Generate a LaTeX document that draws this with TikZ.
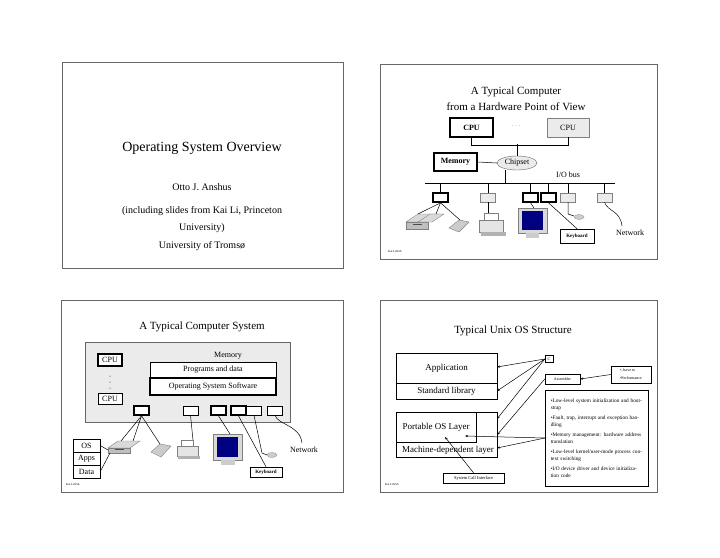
\documentclass[tikz,border=0pt]{standalone}
\usepackage{fontspec}
\setmainfont{Liberation Serif}
\usetikzlibrary{shapes.geometric,arrows.meta}
\begin{document}
\begin{tikzpicture}[x=1pt,y=-1pt,
 slide/.style={draw=black!60,line width=1pt},
 bx/.style={draw,line width=0.5pt,fill=white},
 bbx/.style={draw,line width=1.6pt,fill=white},
 gbx/.style={draw=black!50,line width=0.5pt,fill=black!8},
 t/.style={font=\fontsize{#1}{#1}\selectfont,inner sep=0pt},
 wire/.style={draw,line width=0.5pt},
 arr/.style={draw,line width=0.5pt,-{Stealth[length=3pt]}}]
\useasboundingbox (0,0) rectangle (720,557);
\fill[white] (0,0) rectangle (720,557);
% slide frames
\draw[slide] (62,62) rectangle (343,268);
\draw[slide] (380,64) rectangle (657,259);
\draw[slide] (61,300) rectangle (343,492);
\draw[slide] (380,300) rectangle (657,492);
% ---------- slide 1
\node[t=14] (s1t) at (202,148) {Operating System Overview};
\node[t=10] (s1a) at (202,187) {Otto J. Anshus};
\node[t=10] (s1b) at (202,211) {(including slides from Kai Li, Princeton};
\node[t=10] (s1c) at (202,228) {University)};
\node[t=10] (s1d) at (202,246) {University of Troms\o};
% ---------- slide 2
\node[t=11] (s2t1) at (516,92) {A Typical Computer};
\node[t=11] (s2t2) at (516,107) {from a Hardware Point of View};
\node[bbx,minimum width=43pt,minimum height=19pt,t=8] (cpu1) at (471.5,127.5) {\bfseries CPU};
\node[t=6,text=black!50] (dots) at (516,126) {. . .};
\node[gbx,minimum width=42pt,minimum height=19pt,t=8] (cpu2) at (568,127.5) {CPU};
\node[bbx,minimum width=43pt,minimum height=18pt,t=8] (mem) at (455.5,162) {\bfseries Memory};
\node[ellipse,draw=black!60,fill=black!8,minimum width=40pt,minimum height=14pt,t=8] (chip) at (517,163) {Chipset};
\coordinate (bl) at (425,183); \coordinate (br) at (615,183);
\draw[line width=1pt] (bl) -- (br);
\node[t=8] (iob) at (568,175) {I/O bus};
\draw[wire] (cpu1.south) -- ++(0,7) -| (cpu2.south);
\draw[wire] (517,144) -- (chip.north);
\draw[wire] (mem.east) -- (chip.west);
\draw[wire] (505,170) -- (505,183);
\foreach \x/\s [count=\i] in {440.5/bbx,488/gbx,530.5/bbx,548.5/bbx,568/gbx,604.5/gbx}{
  \node[\s,minimum width=15pt,minimum height=9pt,inner sep=0pt] (hb\i) at (\x,197.5) {};
  \draw[wire] (\x,183) -- (hb\i.north);
}
\node[bx,minimum width=34pt,minimum height=14pt,t=5] (kb1) at (577,236) {\bfseries Keyboard};
\node[t=8] (net1) at (630,233) {Network};
\node[t=3] (ft1) at (395,252) {Kai Li/03A};
% devices slide2
\begin{scope}
\fill[black!15,draw=black!50] (406,222) -- (418,214) -- (440,214) -- (428,222) -- cycle;
\fill[black!25,draw=black!50] (406,222) rectangle (428,229);
\fill[black!15,draw=black!50] (418,222) -- (430,214) -- (444,214) -- (432,222)--cycle;
\fill[black!70] (413,224) rectangle (422,225);
\fill[black!20,draw=black!50] (449,228) -- (459,220) -- (469,222) -- (459,232) -- cycle;
\fill[black!10,draw=black!50] (479,220) rectangle (503,232);
\fill[white,draw=black!50] (484,213) rectangle (498,220);
\fill[black!30] (481,232) rectangle (506,236);
\fill[black!15,draw=black!50] (518,208) rectangle (547,233);
\fill[blue!50!black] (522,211) rectangle (543,230);
\fill[black!20] (526,233) rectangle (539,238);
\fill[black!20,draw=black!40] (579,217) ellipse (5 and 2.5);
\end{scope}
\draw[wire] (hb1.south) -- (418,214); \draw[wire] (hb1.south) -- (436,214); \draw[wire] (hb1.south) -- (460,220);
\draw[wire] (hb2.south) -- (488,213);
\draw[wire] (hb3.south) -- (534,208);
\draw[wire] (hb4.south) -- (kb1.north);
\draw[wire] (hb5.south) -- (568,214) -- (574,216);
\draw[wire] (hb6.south) .. controls (608,212) and (620,210) .. (622,226);
% ---------- slide 3
\node[t=11] (s3t) at (202,327) {A Typical Computer System};
\node[gbx,draw=black!60,minimum width=205pt,minimum height=80pt] (memarea) at (187.5,382) {};
\node[t=8] (memlbl) at (228,356) {Memory};
\node[bx,minimum width=126pt,minimum height=16pt,t=8] (pd) at (213,370) {Programs and data};
\node[bbx,minimum width=126pt,minimum height=17pt,t=8] (oss) at (213,386.5) {Operating System Software};
\node[bbx,minimum width=24pt,minimum height=12pt,t=8] (cpu3) at (110,360) {CPU};
\foreach \yy in {376,382,388} \fill (110,\yy) circle (0.5);
\node[bx,minimum width=24pt,minimum height=11pt,t=8] (cpu4) at (110,398.5) {CPU};
\foreach \x/\s [count=\i] in {141.5/bbx,190.5/bx,218.5/bbx,238.5/bbx,254/bx,275/bx}{
  \node[\s,minimum width=15pt,minimum height=9pt,inner sep=0pt] (lb\i) at (\x,410.5) {};
}
\node[bx,minimum width=27pt,minimum height=13pt,t=8] (os) at (86.5,445.5) {OS};
\node[bx,minimum width=27pt,minimum height=13pt,t=8] (apps) at (86.5,458.5) {Apps};
\node[bx,minimum width=27pt,minimum height=13pt,t=8] (data) at (86.5,471.5) {Data};
\node[bx,minimum width=32pt,minimum height=10pt,t=5] (kb2) at (266,472) {\bfseries Keyboard};
\node[t=8] (net2) at (304,450) {Network};
\node[t=3] (ft2) at (73,485) {Kai Li/03A};
\begin{scope}
\fill[black!15,draw=black!50] (108,448) -- (118,441) -- (140,441) -- (130,448) -- cycle;
\fill[black!25,draw=black!50] (108,448) rectangle (130,453);
\fill[black!70] (115,449) rectangle (124,450);
\fill[black!20,draw=black!50] (151,452) -- (160,444) -- (171,446) -- (161,457) -- cycle;
\fill[black!10,draw=black!50] (177,446) rectangle (198,456);
\fill[white,draw=black!50] (181,440) rectangle (193,446);
\fill[black!30] (178,456) rectangle (200,459);
\fill[black!15,draw=black!50] (213,434) rectangle (242,460);
\fill[blue!50!black] (217,437) rectangle (238,457);
\fill[black!20] (221,460) rectangle (235,465);
\fill[black!20,draw=black!40] (272,455) ellipse (5 and 2.5);
\end{scope}
\draw[wire] (lb1.south) -- (121,441); \draw[wire] (lb1.south) -- (133,441); \draw[wire] (lb1.south) -- (160,444);
\draw[wire] (lb2.south) -- (193,440);
\draw[wire] (lb3.south) -- (230,434);
\draw[wire] (lb4.south) -- (kb2.north);
\draw[wire] (lb5.south) -- (262,453) -- (267,455);
\draw[wire] (lb6.south) .. controls (278,425) and (300,425) .. (302,443);
\draw[wire] (os.east) -- (108,450);
\draw[wire] (data.east) -- (110,453);
% ---------- slide 4
\node[t=11] (s4t) at (513,331) {Typical Unix OS Structure};
\node[bx,minimum width=101pt,minimum height=30pt,t=9,line width=0.8pt] (app) at (446.5,368) {Application};
\node[bx,minimum width=101pt,minimum height=16pt,t=9,line width=0.8pt] (stdl) at (446.5,391) {Standard library};
\draw[line width=1.4pt] (app.south west) -- (app.south east);
\node[bx,minimum width=101pt,minimum height=45pt,line width=0.8pt] (mdl) at (446.5,434.5) {};
\node[t=9] (mdlt) at (448,450) {Machine-dependent layer};
\node[bx,minimum width=80pt,minimum height=30pt,t=9,line width=0.8pt] (pol) at (436,427) {Portable OS Layer};
\node[bx,minimum width=8pt,minimum height=7pt,t=4] (c) at (549,359) {C};
\node[bx,minimum width=35pt,minimum height=10pt,t=4] (asm) at (562.5,379) {Assembler};
\node[bx,minimum width=40pt,minimum height=17pt,align=left,t=4] (perf) at (631,374.5) {\textbullet..have to\\[4pt]\textbullet Performance};
\node[bx,minimum width=103pt,minimum height=96pt,align=left,text width=92pt,font=\fontsize{5.3}{7}\selectfont,anchor=north west,inner sep=4pt] (bul) at (545,390) {
\textbullet Low-level system initialization and bootstrap\\[3pt]
\textbullet Fault, trap, interrupt and exception handling\\[3pt]
\textbullet Memory management: hardware address translation\\[3pt]
\textbullet Low-level kernel/user-mode process context switching\\[3pt]
\textbullet I/O device driver and device initialization code\\[5pt]};
\node[bx,minimum width=61pt,minimum height=10pt,t=4.5] (sci) at (473.5,478) {System Call Interface};
\node[t=3] (ft4) at (392,485) {Kai Li/03A};
\draw[arr] (c.west) -- (497,367);
\draw[arr] (c.west) -- (497,391);
\draw[arr] (c.west) -- (497,419);
\draw[arr] (asm.west) -- (497,435);
\draw[arr] (perf.west) -- (asm.east);
\draw[arr] (545,438) -- (465,436);
\draw[arr] (545,438) -- (497,448);
\draw[arr] (sci.north) -- (445,437);
\end{tikzpicture}
\end{document}
